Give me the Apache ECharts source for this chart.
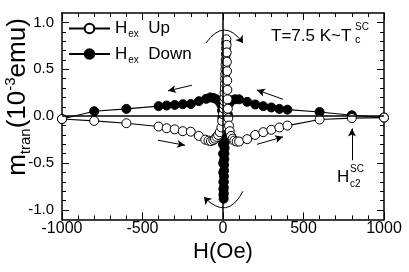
<!DOCTYPE html>
<html><head><meta charset="utf-8">
<script src="https://cdn.jsdelivr.net/npm/echarts@6/dist/echarts.min.js"></script>
<style>html,body{margin:0;padding:0;background:#fff}#c{width:409px;height:272px}</style>
</head><body><div id="c"></div>
<script>
const upH = [-1000,-800,-600,-400,-350,-300,-250,-200,-150,-110,-90,-75,-60,-50,-40,-30,-20,-10,-5,0,5,7,8,9,10,11,12,13,14,15,16,17,18,19,20,21,22,23,24,25,26,27,28,30,33,37,42,50,60,70,85,100,150,200,250,300,350,400,600,800,1000];
const upM = [-0.03,-0.05,-0.075,-0.11,-0.128,-0.14,-0.16,-0.165,-0.21,-0.25,-0.26,-0.265,-0.255,-0.24,-0.22,-0.2,-0.17,-0.12,-0.05,0.02,0.08,0.12,0.16,0.2,0.25,0.3,0.35,0.4,0.45,0.5,0.55,0.6,0.66,0.72,0.78,0.82,0.76,0.68,0.58,0.48,0.38,0.28,0.18,0.08,-0.02,-0.1,-0.16,-0.21,-0.24,-0.26,-0.27,-0.27,-0.245,-0.2,-0.17,-0.145,-0.12,-0.1,-0.035,-0.02,-0.015];
const downH = [1000,800,600,400,350,300,250,200,150,100,75,50,40,30,20,16,13,11,10,9,8,7,6.5,6,5.5,5,4.5,4,3,2.5,2,1.5,1,0.5,0,-1,-2,-4,-6,-10,-20,-40,-60,-80,-105,-150,-200,-250,-300,-350,-400,-600,-800,-1000];
const downM = [-0.015,0.01,0.045,0.07,0.078,0.093,0.107,0.125,0.153,0.18,0.18,0.17,0.14,0.02,-0.1,-0.16,-0.22,-0.28,-0.34,-0.4,-0.46,-0.52,-0.58,-0.64,-0.7,-0.76,-0.82,-0.88,-0.84,-0.78,-0.7,-0.6,-0.5,-0.4,-0.3,-0.2,-0.12,-0.02,0.06,0.12,0.15,0.18,0.195,0.2,0.185,0.16,0.13,0.128,0.12,0.114,0.107,0.078,0.053,-0.03];
const xTickLabels = ['-1000','-500','0','500','1000'];
const yTickLabels = ['-1.0','-0.5','0.0','0.5','1.0'];

const FONT = 'Liberation Sans, Arial, sans-serif';
const chart = echarts.init(document.getElementById('c'), null, {renderer:'canvas'});
const black = '#000';
function axLine(){ return {show:true, onZero:false, lineStyle:{color:black, width:1.5}}; }
function tickIn(){ return {show:true, inside:true, length:7, lineStyle:{color:black, width:1}}; }
function minorIn(){ return {show:true, splitNumber:5, length:4, lineStyle:{color:black, width:1}}; }

const option = {
  animation:false,
  backgroundColor:'#fff',
  grid:[
    {left:62, right:25, top:13, bottom:52.6},
    {left:62, right:25, top:22.4, bottom:62}
  ],
  legend:{
    left:68, top:20, padding:0, orient:'vertical', itemWidth:41, itemHeight:12, itemGap:6,
    selectedMode:false,
    textStyle:{fontFamily:FONT, fontSize:17, color:black,
      rich:{a:{fontFamily:FONT,fontSize:17,color:black},
            s:{fontFamily:FONT,fontSize:10,color:black,padding:[12,0,0,1]}}},
    formatter:function(n){ return n==='up' ? '{a|H}{s|ex}{a|  Up}' : '{a|H}{s|ex}{a|  Down}'; },
    data:['up','down']
  },
  xAxis:[
    {gridIndex:0, type:'value', position:'bottom', min:-1000, max:1000, interval:500,
     axisLine:axLine(), axisTick:tickIn(), minorTick:minorIn(), splitLine:{show:false}, minorSplitLine:{show:false},
     axisLabel:{color:black, fontFamily:FONT, fontSize:16, margin:1,
       formatter:function(v){ return xTickLabels[Math.round((v+1000)/500)]; }},
     name:'H(Oe)', nameLocation:'middle', nameGap:17,
     nameTextStyle:{color:black, fontFamily:FONT, fontSize:22, verticalAlign:'top'}},
    {gridIndex:0, type:'value', position:'top', min:-1000, max:1000, interval:500,
     axisLine:axLine(), axisTick:tickIn(), minorTick:minorIn(), splitLine:{show:false},
     axisLabel:{show:false}},
    {gridIndex:1, type:'value', show:false, min:-1000, max:1000}
  ],
  yAxis:[
    {gridIndex:0, type:'value', position:'left', min:-1.1, max:1.1,
     axisLine:axLine(), axisTick:{show:false}, splitLine:{show:false}, axisLabel:{show:false}},
    {gridIndex:0, type:'value', position:'right', min:-1.1, max:1.1,
     axisLine:axLine(), axisTick:{show:false}, splitLine:{show:false}, axisLabel:{show:false}},
    {gridIndex:1, type:'value', position:'left', min:-1, max:1, interval:0.5,
     axisLine:{show:false, onZero:false}, axisTick:tickIn(), minorTick:minorIn(), splitLine:{show:false},
     axisLabel:{color:black, fontFamily:FONT, fontSize:15, margin:8,
       formatter:function(v){ return yTickLabels[Math.round((v+1)/0.5)]; }}},
    {gridIndex:1, type:'value', position:'right', min:-1, max:1, interval:0.5,
     axisLine:{show:false, onZero:false}, axisTick:tickIn(), minorTick:minorIn(), splitLine:{show:false},
     axisLabel:{show:false}}
  ],
  series:[
    {name:'down', type:'line', xAxisIndex:0, yAxisIndex:0,
     data:downH.map((h,i)=>[h,downM[i]]),
     symbol:'circle', symbolSize:9, showAllSymbol:true,
     lineStyle:{color:black, width:1.2},
     itemStyle:{color:black, borderColor:black, borderWidth:1},
     emphasis:{disabled:true},
     markLine:{
       silent:true, symbol:['none','arrow'], symbolSize:[6,8],
       label:{show:false}, emphasis:{disabled:true},
       lineStyle:{color:black, width:1, type:'solid'},
       data:[
         [{coord:[-193,0.33]},{coord:[-342,0.27]}],
         [{coord:[373,0.18]},{coord:[211,0.28]}],
         [{coord:[-404,-0.256]},{coord:[-236,-0.31]}],
         [{coord:[211,-0.30]},{coord:[373,-0.22]}],
         [{coord:[801,-0.47]},{coord:[801,-0.13]}]
       ]
     }},
    {name:'up', type:'line', xAxisIndex:0, yAxisIndex:0,
     data:upH.map((h,i)=>[h,upM[i]]),
     symbol:'circle', symbolSize:9, showAllSymbol:true,
     lineStyle:{color:black, width:1.2},
     itemStyle:{color:'#fff', borderColor:black, borderWidth:1},
     emphasis:{disabled:true},
     markLine:{
       silent:true, symbol:['none','none'], label:{show:false}, emphasis:{disabled:true},
       lineStyle:{color:black, width:1.5, type:'solid'},
       data:[{xAxis:0},{yAxis:0}]
     }},
    {name:'arcs', type:'lines', coordinateSystem:'cartesian2d', xAxisIndex:0, yAxisIndex:0,
     silent:true, symbol:['none','arrow'], symbolSize:7,
     lineStyle:{color:black, width:1, type:'solid', curveness:0.7, opacity:1},
     data:[
       {coords:[[-106,0.78],[124,0.78]]},
       {coords:[[124,-0.8],[-118,-0.86]]}
     ]}
  ],
  graphic:[
    {type:'text', x:18, y:97, rotation:Math.PI/2,
     style:{text:'{a|m}{s|tran}{a|(10}{p|-3}{a|emu)}', align:'center', verticalAlign:'middle',
       rich:{a:{fontFamily:FONT,fontSize:26,fill:black},
             s:{fontFamily:FONT,fontSize:15,fill:black,padding:[15,0,0,0]},
             p:{fontFamily:FONT,fontSize:15,fill:black,padding:[0,0,15,0]}}}},
    {type:'text', x:271, y:36, style:{text:'T=7.5 K~T', font:'17px '+FONT, fill:black, verticalAlign:'middle'}},
    {type:'text', x:355, y:27, style:{text:'SC', font:'10px '+FONT, fill:black, verticalAlign:'middle'}},
    {type:'text', x:355, y:40, style:{text:'c', font:'11px '+FONT, fill:black, verticalAlign:'middle'}},
    {type:'text', x:337, y:177, style:{text:'H', font:'17px '+FONT, fill:black, verticalAlign:'middle'}},
    {type:'text', x:350, y:169, style:{text:'SC', font:'10px '+FONT, fill:black, verticalAlign:'middle'}},
    {type:'text', x:350, y:184, style:{text:'c2', font:'10px '+FONT, fill:black, verticalAlign:'middle'}}
  ]
};
chart.setOption(option);
</script>
</body></html>
